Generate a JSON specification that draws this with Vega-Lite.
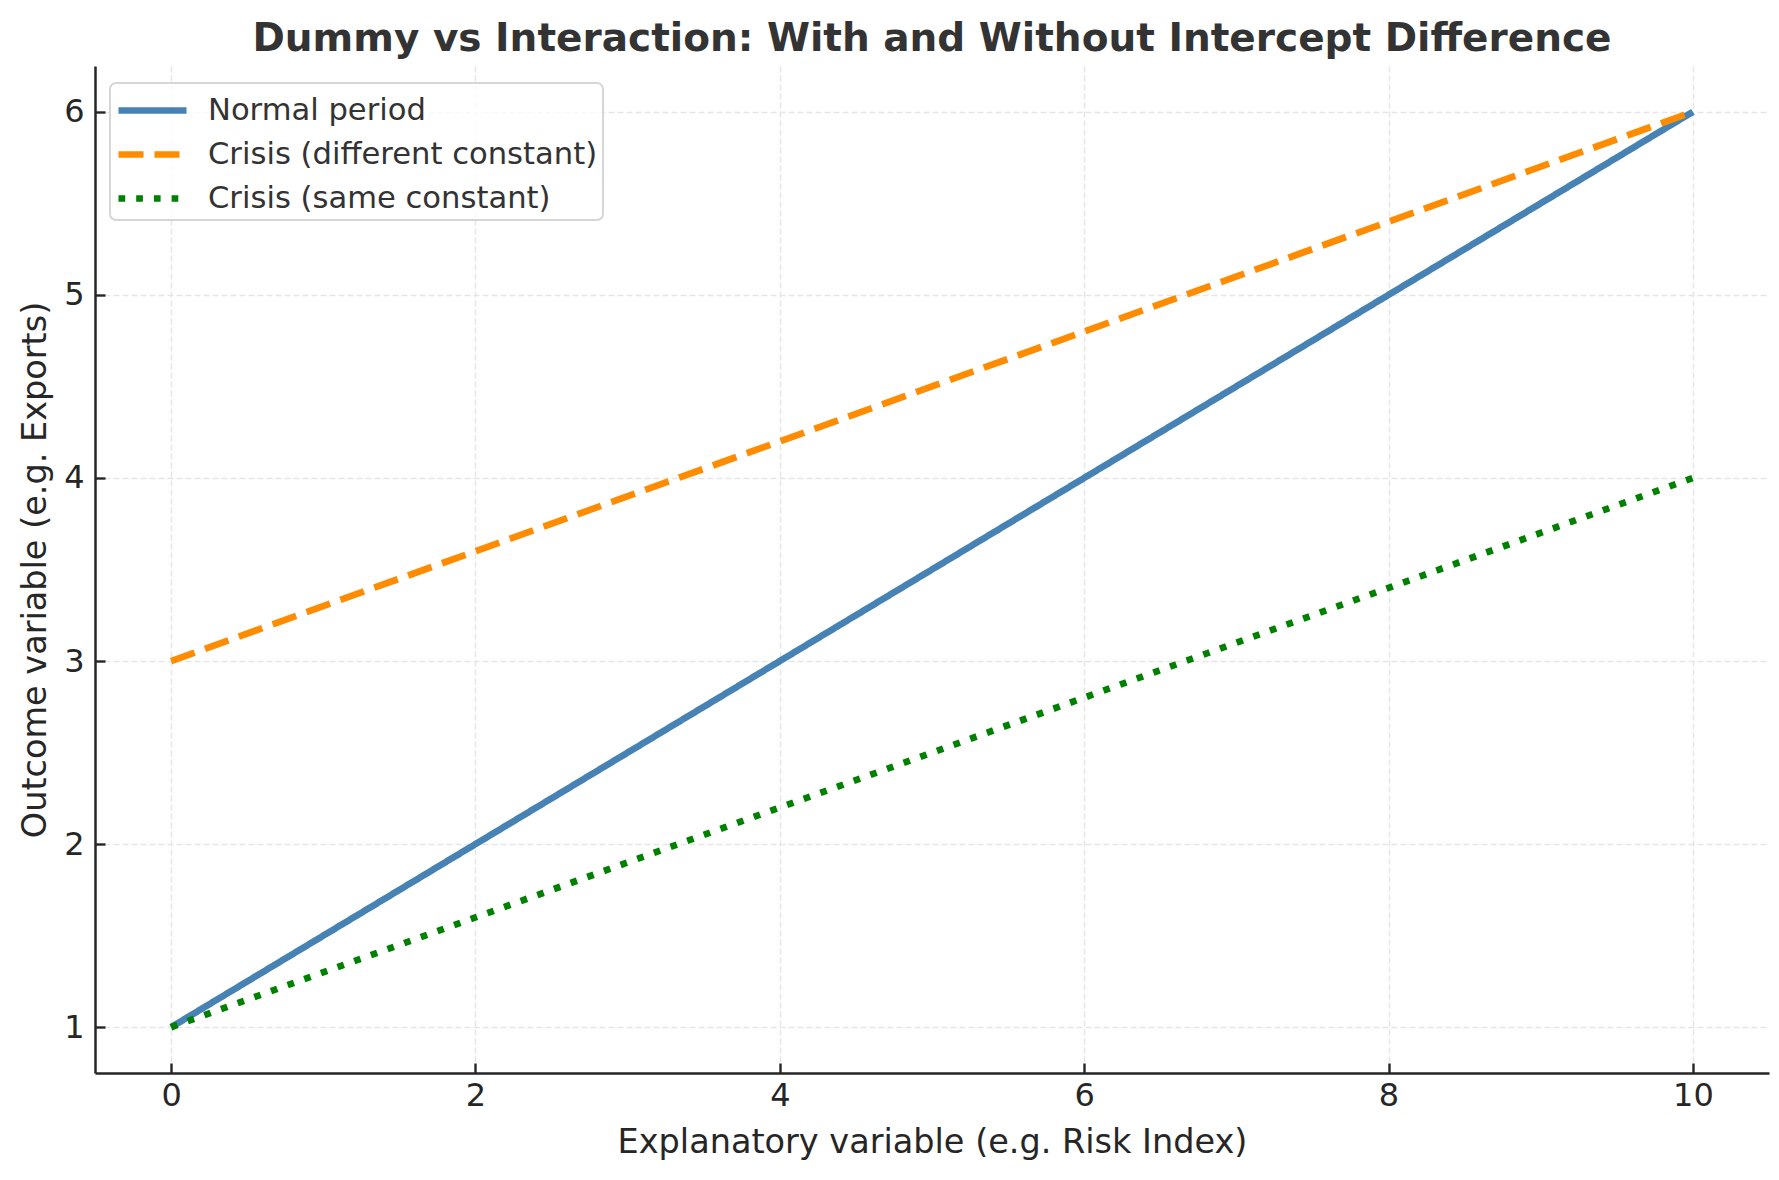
{
  "$schema": "https://vega.github.io/schema/vega-lite/v6.json",
  "width": 1674,
  "height": 1007,
  "autosize": "none",
  "padding": {"left": 95, "top": 66, "right": 10, "bottom": 107},
  "background": "white",
  "title": {
    "text": "Dummy vs Interaction: With and Without Intercept Difference",
    "font": "DejaVu Sans",
    "fontSize": 39,
    "fontWeight": "bold",
    "color": "#333333",
    "anchor": "middle",
    "baseline": "bottom",
    "offset": 7,
    "dy": 39
  },
  "data": {
    "values": [
      {"x": 0, "y": 1.0, "series": "Normal period"},
      {"x": 2, "y": 2.0, "series": "Normal period"},
      {"x": 4, "y": 3.0, "series": "Normal period"},
      {"x": 6, "y": 4.0, "series": "Normal period"},
      {"x": 8, "y": 5.0, "series": "Normal period"},
      {"x": 10, "y": 6.0, "series": "Normal period"},
      {"x": 0, "y": 3.0, "series": "Crisis (different constant)"},
      {"x": 2, "y": 3.6, "series": "Crisis (different constant)"},
      {"x": 4, "y": 4.2, "series": "Crisis (different constant)"},
      {"x": 6, "y": 4.8, "series": "Crisis (different constant)"},
      {"x": 8, "y": 5.4, "series": "Crisis (different constant)"},
      {"x": 10, "y": 6.0, "series": "Crisis (different constant)"},
      {"x": 0, "y": 1.0, "series": "Crisis (same constant)"},
      {"x": 2, "y": 1.6, "series": "Crisis (same constant)"},
      {"x": 4, "y": 2.2, "series": "Crisis (same constant)"},
      {"x": 6, "y": 2.8, "series": "Crisis (same constant)"},
      {"x": 8, "y": 3.4, "series": "Crisis (same constant)"},
      {"x": 10, "y": 4.0, "series": "Crisis (same constant)"}
    ]
  },
  "mark": {"type": "line", "strokeWidth": 6.7, "strokeCap": "butt", "clip": false},
  "encoding": {
    "x": {
      "field": "x",
      "type": "quantitative",
      "scale": {"domain": [-0.5, 10.5], "nice": false, "zero": false},
      "axis": {"values": [0, 2, 4, 6, 8, 10], "title": "Explanatory variable (e.g. Risk Index)", "titlePadding": 15, "labelPadding": 17}
    },
    "y": {
      "field": "y",
      "type": "quantitative",
      "scale": {"domain": [0.75, 6.25], "nice": false, "zero": false},
      "axis": {"values": [1, 2, 3, 4, 5, 6], "title": "Outcome variable (e.g. Exports)", "titlePadding": 11, "labelPadding": 21}
    },
    "color": {
      "field": "series",
      "type": "nominal",
      "sort": null,
      "scale": {
        "domain": ["Normal period", "Crisis (different constant)", "Crisis (same constant)"],
        "range": ["#4682b4", "#ff8c00", "#008000"]
      },
      "legend": {"title": null}
    },
    "strokeDash": {
      "field": "series",
      "type": "nominal",
      "sort": null,
      "scale": {
        "domain": ["Normal period", "Crisis (different constant)", "Crisis (same constant)"],
        "range": [[1, 0], [25, 11], [6.7, 11]]
      },
      "legend": {"title": null}
    }
  },
  "config": {
    "view": {"stroke": null},
    "font": "DejaVu Sans",
    "axis": {
      "labelFont": "DejaVu Sans",
      "labelFontSize": 32,
      "labelColor": "#262626",
      "titleFont": "DejaVu Sans",
      "titleFontSize": 33.5,
      "titleFontWeight": "normal",
      "titleColor": "#262626",
      "domainColor": "#262626",
      "domainWidth": 2.5,
      "tickColor": "#262626",
      "tickWidth": 2.4,
      "tickSize": -10,
      "gridColor": "#e6e6e6",
      "gridDash": [6, 3],
      "gridWidth": 1.5
    },
    "legend": {
      "orient": "none",
      "legendX": 15,
      "legendY": 17,
      "fillColor": "rgba(255,255,255,0.8)",
      "strokeColor": "#d6d6d6",
      "strokeWidth": 2,
      "cornerRadius": 6,
      "padding": 5,
      "symbolType": "M-1.0,0H2.58",
      "symbolSize": 1444,
      "symbolStrokeWidth": 6.7,
      "labelFont": "DejaVu Sans",
      "labelFontSize": 30.6,
      "labelColor": "#333333",
      "labelOffset": 48,
      "rowPadding": 5,
      "labelLimit": 600
    }
  }
}
